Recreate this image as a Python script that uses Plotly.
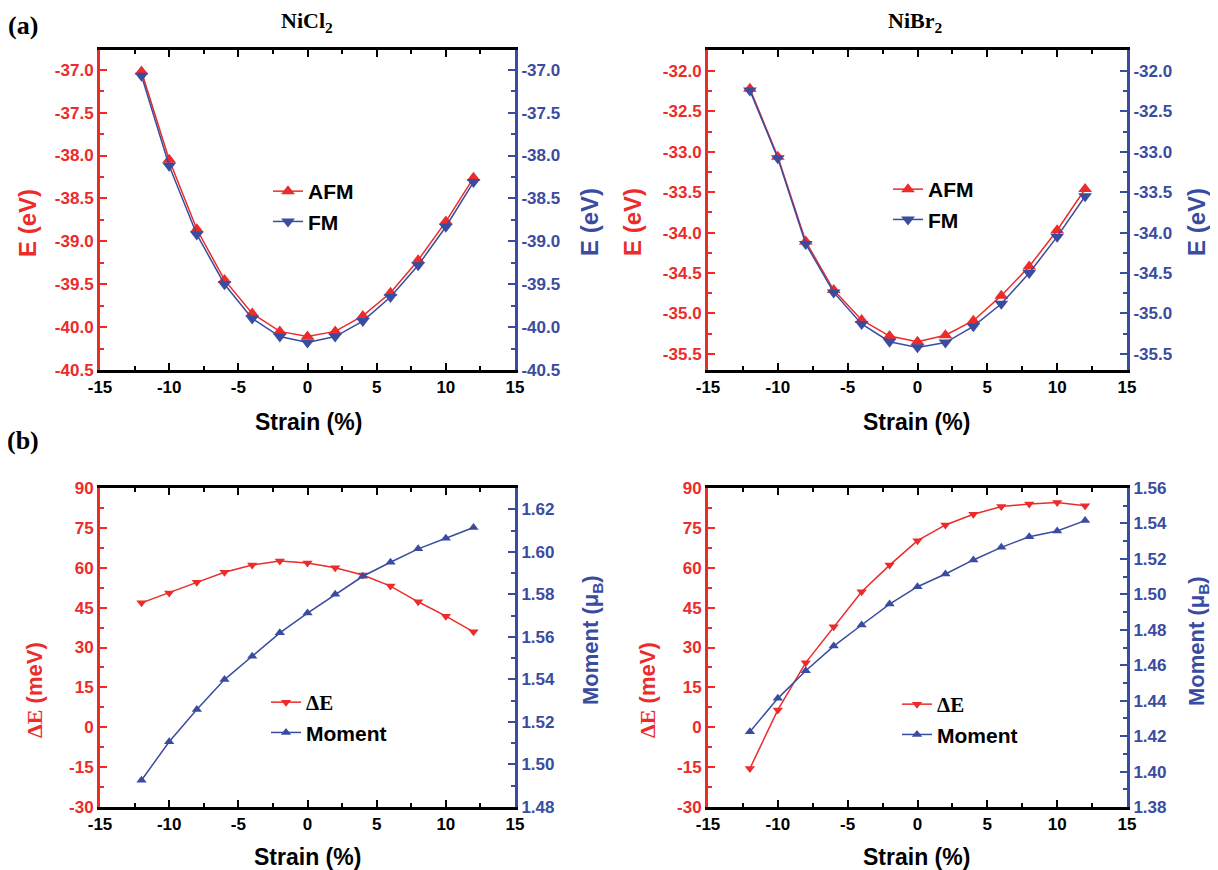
import plotly.graph_objects as go

# ---------------- data ----------------
strain = [-12, -10, -8, -6, -4, -2, 0, 2, 4, 6, 8, 10, 12]

nicl2_afm = [-37.02, -38.05, -38.86, -39.45, -39.84, -40.05, -40.11, -40.05, -39.87, -39.60, -39.22, -38.77, -38.26]
nicl2_fm = [-37.07, -38.12, -38.92, -39.50, -39.90, -40.11, -40.18, -40.11, -39.93, -39.65, -39.28, -38.83, -38.31]

nibr2_afm = [-32.22, -33.06, -34.11, -34.71, -35.08, -35.28, -35.35, -35.27, -35.09, -34.78, -34.42, -33.97, -33.46]
nibr2_fm = [-32.24, -33.08, -34.14, -34.74, -35.13, -35.35, -35.42, -35.36, -35.16, -34.88, -34.50, -34.05, -33.55]

nicl2_de = [46.8, 50.5, 54.5, 58.3, 61.0, 62.5, 61.8, 60.0, 57.3, 53.1, 47.2, 41.8, 35.9]
nicl2_mom = [1.4926, 1.5107, 1.5258, 1.5399, 1.5509, 1.5619, 1.5712, 1.5800, 1.5885, 1.5951, 1.6014, 1.6064, 1.6114]

nibr2_de = [-15.5, 6.5, 24.3, 37.8, 51.0, 61.0, 70.2, 76.1, 80.1, 83.0, 84.0, 84.5, 83.3]
nibr2_mom = [1.4225, 1.4413, 1.4569, 1.4708, 1.4827, 1.4945, 1.5043, 1.5115, 1.5194, 1.5265, 1.5325, 1.5357, 1.5416]

# tick labels
x_ticks = [-15, -10, -5, 0, 5, 10, 15]
e_ticks_cl = [-40.5, -40.0, -39.5, -39.0, -38.5, -38.0, -37.5, -37.0]
e_ticks_br = [-35.5, -35.0, -34.5, -34.0, -33.5, -33.0, -32.5, -32.0]
de_ticks = [-30, -15, 0, 15, 30, 45, 60, 75, 90]
mom_ticks_cl = [1.48, 1.50, 1.52, 1.54, 1.56, 1.58, 1.60, 1.62]
mom_ticks_br = [1.38, 1.40, 1.42, 1.44, 1.46, 1.48, 1.50, 1.52, 1.54, 1.56]

# ---------------- style ----------------
OFF = 8                       # page body margin
W, H = 1218 - OFF, 870 - OFF  # figure size so the page fits the window
RED = "#ec2b2b"
BLUE = "#3a4c9f"
SANS = "Liberation Sans, Arial, sans-serif"
SERIF = "Liberation Serif, Times New Roman, serif"


def px(x):
    return (x - OFF) / W


def py(y):
    return 1 - (y - OFF) / H


def labels(vals, fmt):
    return [format(v, fmt).replace("\u2212", "-") for v in vals]


panels = [
    dict(xd=(100, 515), yd=(50, 370), yl=[-40.5, -36.77], yr=[-40.5, -36.77],
         lt=e_ticks_cl, rt=e_ticks_cl, lminor=0.25, rminor=0.25, lfmt=".1f", rfmt=".1f"),
    dict(xd=(708, 1127), yd=(50, 370), yl=[-35.70, -31.74], yr=[-35.70, -31.74],
         lt=e_ticks_br, rt=e_ticks_br, lminor=0.25, rminor=0.25, lfmt=".1f", rfmt=".1f"),
    dict(xd=(100, 515), yd=(488, 807), yl=[-30, 90], yr=[1.48, 1.63],
         lt=de_ticks, rt=mom_ticks_cl, lminor=7.5, rminor=0.01, lfmt="d", rfmt=".2f"),
    dict(xd=(708, 1127), yd=(488, 807), yl=[-30, 90], yr=[1.38, 1.56],
         lt=de_ticks, rt=mom_ticks_br, lminor=7.5, rminor=0.01, lfmt="d", rfmt=".2f"),
]

tickfont = lambda c: dict(family=SANS, size=17, color=c, weight="bold")

layout = dict(
    width=W, height=H,
    margin=dict(l=0, r=0, t=0, b=0, autoexpand=False),
    paper_bgcolor="white", plot_bgcolor="white",
    showlegend=True,
)

for i, p in enumerate(panels):
    xa = "xaxis" if i == 0 else f"xaxis{i + 1}"
    xid = "x" if i == 0 else f"x{i + 1}"
    yl_n = 2 * i + 1
    yr_n = 2 * i + 2
    yla = "yaxis" if yl_n == 1 else f"yaxis{yl_n}"
    ylid = "y" if yl_n == 1 else f"y{yl_n}"
    yra = f"yaxis{yr_n}"
    layout[xa] = dict(
        domain=[px(p["xd"][0]), px(p["xd"][1])],
        anchor=ylid, range=[-15, 15], automargin=False,
        tickmode="array", tickvals=x_ticks, ticktext=labels(x_ticks, "d"),
        ticks="inside", ticklen=7, tickwidth=2, tickcolor="black",
        minor=dict(dtick=2.5, tick0=0, ticks="inside", ticklen=4, tickwidth=2, tickcolor="black"),
        showline=True, linecolor="black", linewidth=3, mirror="ticks",
        showgrid=False, zeroline=False,
        tickfont=tickfont("black"),
    )
    layout[yla] = dict(
        domain=[py(p["yd"][1]), py(p["yd"][0])],
        anchor=xid, range=p["yl"], automargin=False,
        tickmode="array", tickvals=p["lt"], ticktext=labels(p["lt"], p["lfmt"]),
        ticks="inside", ticklen=7, tickwidth=2, tickcolor=RED,
        minor=dict(dtick=p["lminor"], tick0=0, ticks="inside", ticklen=4, tickwidth=2, tickcolor=RED),
        showline=True, linecolor=RED, linewidth=3, mirror=False,
        showgrid=False, zeroline=False,
        tickfont=tickfont(RED),
    )
    layout[yra] = dict(
        overlaying=ylid, side="right", anchor=xid, automargin=False,
        range=p["yr"],
        tickmode="array", tickvals=p["rt"], ticktext=labels(p["rt"], p["rfmt"]),
        ticks="inside", ticklen=7, tickwidth=2, tickcolor=BLUE,
        minor=dict(dtick=p["rminor"], tick0=0, ticks="inside", ticklen=4, tickwidth=2, tickcolor=BLUE),
        showline=True, linecolor=BLUE, linewidth=3,
        showgrid=False, zeroline=False,
        tickfont=tickfont(BLUE),
    )

fig = go.Figure()


def add(i, y, name, color, symbol, size, right, legend):
    xid = "x" if i == 0 else f"x{i + 1}"
    n = 2 * i + (2 if right else 1)
    yid = "y" if n == 1 else f"y{n}"
    fig.add_trace(go.Scatter(
        x=strain, y=y, name=name, mode="lines+markers",
        xaxis=xid, yaxis=yid, legend=legend,
        line=dict(color=color, width=1.5),
        marker=dict(symbol=symbol, size=size, color=color),
    ))


DE = f"<span style='font-family:{SERIF}'>ΔE</span>"

add(0, nicl2_afm, "AFM", RED, "triangle-up", 12, False, "legend")
add(0, nicl2_fm, "FM", BLUE, "triangle-down", 12, True, "legend")
add(1, nibr2_afm, "AFM", RED, "triangle-up", 12, False, "legend2")
add(1, nibr2_fm, "FM", BLUE, "triangle-down", 12, True, "legend2")
add(2, nicl2_de, DE, RED, "triangle-down", 9, False, "legend3")
add(2, nicl2_mom, "Moment", BLUE, "triangle-up", 9, True, "legend3")
add(3, nibr2_de, DE, RED, "triangle-down", 9, False, "legend4")
add(3, nibr2_mom, "Moment", BLUE, "triangle-up", 9, True, "legend4")

legfont = dict(family=SANS, size=21, color="black", weight="bold")
for key, (lx, ly) in zip(["legend", "legend2", "legend3", "legend4"],
                         [(268, 171), (888, 169), (266, 682), (897, 684)]):
    layout[key] = dict(x=px(lx), y=py(ly), xanchor="left", yanchor="top",
                       bgcolor="rgba(0,0,0,0)", font=legfont, tracegroupgap=0,
                       itemsizing="trace")

fig.update_layout(**layout)

# ---------------- text annotations ----------------
def ann(text, x, y, size, color="black", family=SANS, angle=0):
    fig.add_annotation(text=text, x=px(x), y=py(y), xref="paper", yref="paper",
                       xanchor="center", yanchor="middle", showarrow=False,
                       textangle=angle,
                       font=dict(family=family, size=size, color=color, weight="bold"))


ann("(a)", 23, 26, 26, family=SERIF)
ann("(b)", 23, 440, 26, family=SERIF)
ann("NiCl<sub>2</sub>", 307, 22, 22, family=SERIF)
ann("NiBr<sub>2</sub>", 915, 22, 22, family=SERIF)

for xc, yc in [(308, 422), (916, 422), (307, 857), (916, 857)]:
    ann("Strain (%)", xc, yc, 23)

ann("E (eV)", 27, 223, 24, RED, angle=-90)
ann("E (eV)", 590, 222, 24, BLUE, angle=-90)
ann("E (eV)", 633, 222, 24, RED, angle=-90)
ann("E (eV)", 1197, 222, 24, BLUE, angle=-90)

DE_T = f"<span style='font-family:{SERIF}'>ΔE</span> (meV)"
ann(DE_T, 34, 690, 22, RED, angle=-90)
ann(DE_T, 647, 690, 22, RED, angle=-90)
ann("Moment (μ<sub>B</sub>)", 592, 640, 22, BLUE, angle=-90)
ann("Moment (μ<sub>B</sub>)", 1198, 641, 22, BLUE, angle=-90)

fig.write_html("out.html")
